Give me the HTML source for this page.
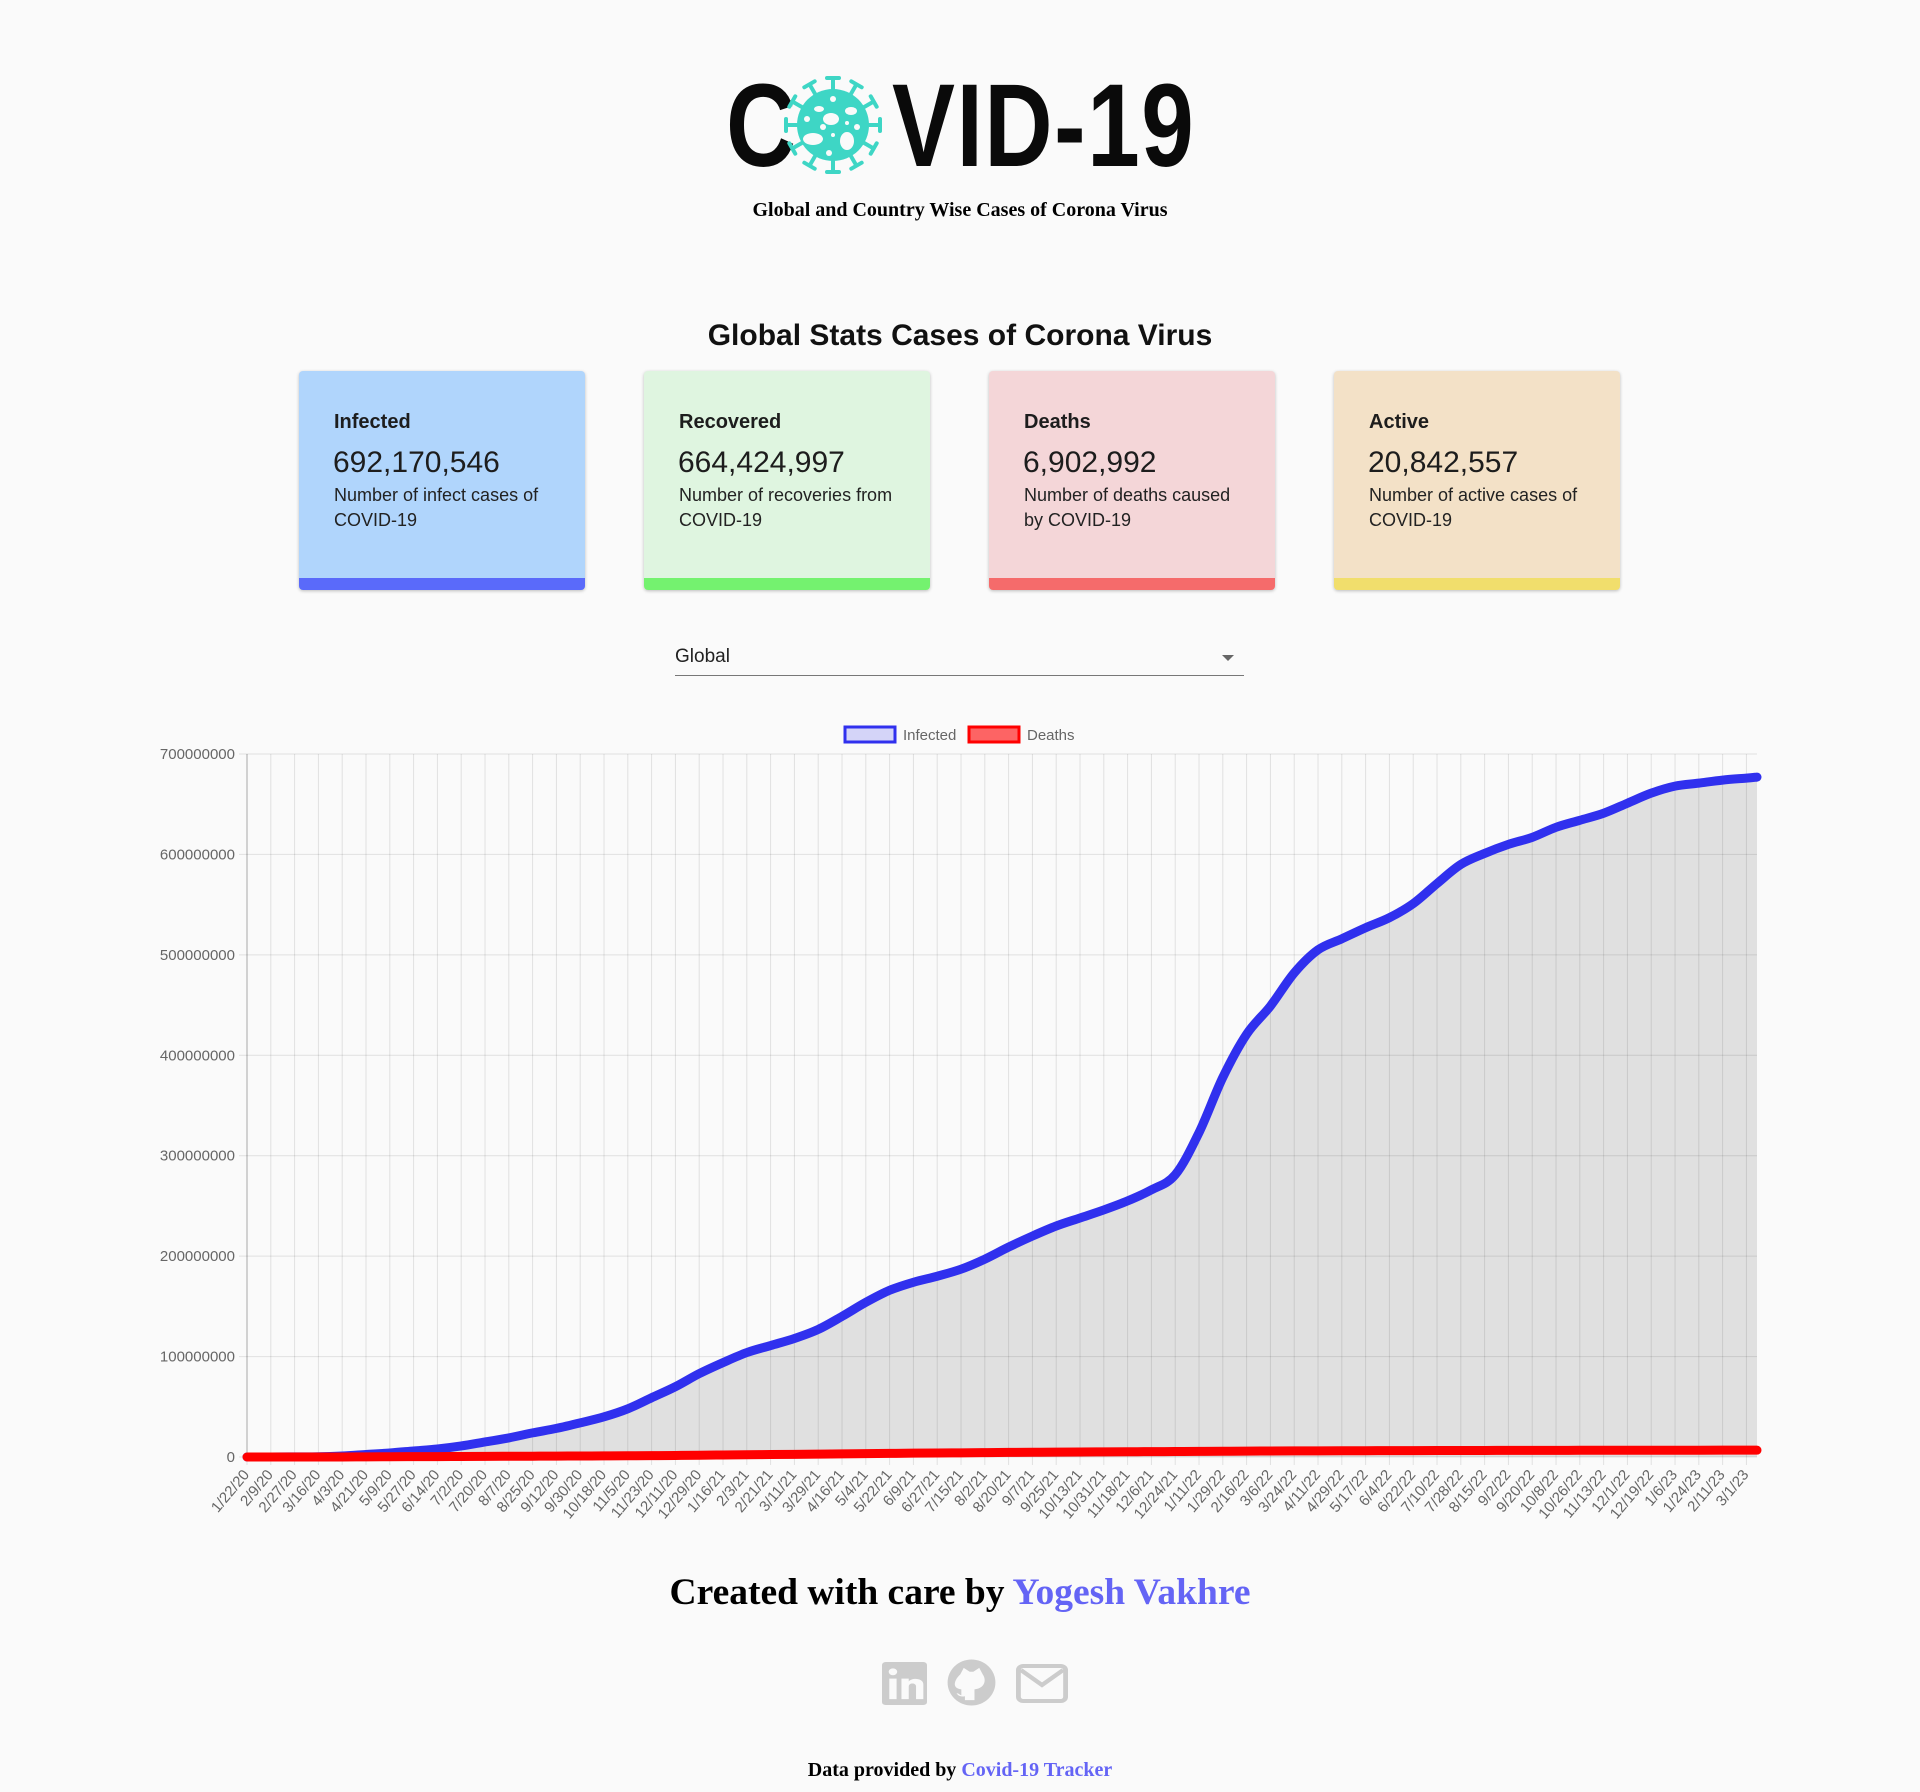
<!DOCTYPE html>
<html><head><meta charset="utf-8">
<style>
body{margin:0;background:#fafafa;width:1920px;height:1792px;position:relative;overflow:hidden;font-family:"Liberation Sans",sans-serif;color:#222}
.abs{position:absolute}
.card{position:absolute;top:371px;width:286px;height:219px;border-radius:4px;box-shadow:0 1px 3px rgba(0,0,0,.25);overflow:hidden}
.card .bar{position:absolute;left:0;right:0;bottom:0;height:12px}
.card .t{position:absolute;left:35px;top:40px;font-weight:bold;font-size:20px;color:#1d1d1d}
.card .n{position:absolute;left:34px;top:75px;font-size:30px;color:#1d1d1d}
.card .d{position:absolute;left:35px;top:112px;font-size:18px;line-height:25px;width:222px;color:#222}
</style></head><body>
<div class="abs" style="left:0;top:0;width:1920px;height:180px">
  <div class="abs" style="left:726px;top:58px;font-weight:bold;font-size:118px;color:#0a0a0a;transform:scaleX(0.82);transform-origin:left top">C</div>
  <svg class="abs" style="left:778px;top:70px" width="110" height="110" viewBox="-55 -55 110 110">
    <g stroke="#3ed6c5" stroke-width="4" stroke-linecap="round" fill="#3ed6c5">
      <g id="sp"><line x1="0" y1="-34" x2="0" y2="-46"/><line x1="-6" y1="-47" x2="6" y2="-47"/></g>
      <use href="#sp" transform="rotate(30)"/><use href="#sp" transform="rotate(60)"/><use href="#sp" transform="rotate(90)"/><use href="#sp" transform="rotate(120)"/><use href="#sp" transform="rotate(150)"/><use href="#sp" transform="rotate(180)"/><use href="#sp" transform="rotate(210)"/><use href="#sp" transform="rotate(240)"/><use href="#sp" transform="rotate(270)"/><use href="#sp" transform="rotate(300)"/><use href="#sp" transform="rotate(330)"/>
    </g>
    <circle r="36" fill="#3ed6c5"/>
    <g fill="#fafafa"><ellipse cx="-2" cy="-6" rx="8" ry="6"/><ellipse cx="-20" cy="14" rx="10" ry="6"/><ellipse cx="14" cy="16" rx="7" ry="9"/><ellipse cx="-14" cy="-16" rx="5" ry="3"/><ellipse cx="18" cy="-14" rx="6" ry="4"/><circle cx="0" cy="-26" r="3"/><circle cx="-26" cy="-6" r="3"/><circle cx="14" cy="-2" r="2"/><circle cx="-4" cy="28" r="3"/><circle cx="0" cy="10" r="2"/><circle cx="-10" cy="2" r="3"/><circle cx="24" cy="2" r="3"/></g>
  </svg>
  <div class="abs" style="left:892px;top:58px;font-weight:bold;font-size:118px;color:#0a0a0a;transform:scaleX(0.8);transform-origin:left top;letter-spacing:2px">VID-19</div>
</div>
<div class="abs" style="left:0;width:1920px;top:199px;text-align:center;font-family:'Liberation Serif',serif;font-weight:bold;font-size:20px;color:#000">Global and Country Wise Cases of Corona Virus</div>
<div class="abs" style="left:0;width:1920px;top:319px;text-align:center;font-weight:bold;font-size:30px;color:#111">Global Stats Cases of Corona Virus</div>

<div class="card" style="left:299px;background:#b0d5fc"><div class="t">Infected</div><div class="n">692,170,546</div><div class="d">Number of infect cases of COVID-19</div><div class="bar" style="background:#5a6afa"></div></div>
<div class="card" style="left:644px;background:#dff5e0"><div class="t">Recovered</div><div class="n">664,424,997</div><div class="d">Number of recoveries from COVID-19</div><div class="bar" style="background:#74f26f"></div></div>
<div class="card" style="left:989px;background:#f4d6d8"><div class="t">Deaths</div><div class="n">6,902,992</div><div class="d">Number of deaths caused by COVID-19</div><div class="bar" style="background:#f56b6b"></div></div>
<div class="card" style="left:1334px;background:#f3e1c7"><div class="t">Active</div><div class="n">20,842,557</div><div class="d">Number of active cases of COVID-19</div><div class="bar" style="background:#f1de6c"></div></div>

<div class="abs" style="left:675px;top:642px;width:569px;height:33px;border-bottom:1px solid #777">
  <span class="abs" style="left:0;top:4px;font-size:19px;color:#222">Global</span>
  <span class="abs" style="right:10px;top:13px;width:0;height:0;border-left:6px solid transparent;border-right:6px solid transparent;border-top:6px solid #666"></span>
</div>

<svg id="chart" class="abs" style="left:0;top:700px" width="1920" height="830"></svg>

<div class="abs" style="left:0;width:1920px;top:1571px;text-align:center;font-family:'Liberation Serif',serif;font-weight:bold;font-size:37.5px;color:#000">Created with care by <span style="color:#6464f5">Yogesh Vakhre</span></div>
<svg class="abs" style="left:882px;top:1662px" width="45" height="43" viewBox="0 0 37 44" preserveAspectRatio="none"><rect x="0" y="0" width="37" height="44" rx="3" fill="#ccc"/><rect x="6" y="17" width="6" height="21" fill="#fafafa"/><circle cx="9" cy="10" r="3.5" fill="#fafafa"/><path d="M16 17h6v3c2-4 12-4 12 3v15h-6V25c0-4-6-4-6 0v13h-6z" fill="#fafafa"/></svg>
<svg class="abs" style="left:947px;top:1659px" width="49" height="47" viewBox="0 0 41 48" preserveAspectRatio="none"><ellipse cx="20.5" cy="24" rx="20" ry="23.5" fill="#ccc"/><path d="M11 16l3-7 5 4h3l5-4 3 7c3 5 2 14-7 15v11h-8V38c-4 1-6-1-7-3 2 0 3 2 4 2v-6C3 30 7 20 11 16z" fill="#fafafa"/></svg>
<svg class="abs" style="left:1016px;top:1664px" width="52" height="39" viewBox="0 0 43 39" preserveAspectRatio="none"><rect x="2" y="2" width="39" height="35" rx="4" fill="none" stroke="#ccc" stroke-width="4"/><path d="M4 6l17.5 15L39 6" fill="none" stroke="#ccc" stroke-width="4"/></svg>
<div class="abs" style="left:0;width:1920px;top:1759px;text-align:center;font-family:'Liberation Serif',serif;font-weight:bold;font-size:20px;color:#000">Data provided by <span style="color:#6464f5">Covid-19 Tracker</span></div>

<script>
// days since 1/22/20 for each sample (every 18 days) plus final day
const sampleDays = [0,18,36,54,72,90,108,126,144,162,180,198,216,234,252,270,288,306,324,342,360,378,396,414,432,450,468,486,504,522,540,558,576,594,612,630,648,666,684,702,720,738,756,774,792,810,828,846,864,882,900,918,936,954,972,990,1008,1026,1044,1062,1080,1098,1116,1134,1142];
// infected in millions
const infectedM = [0,0,0.1,0.2,1,2.5,4,6,8,11,15,19,24,28.5,34,40,48,59,70,83,94,104,111,118,127,140,154,166,174,180,187,197,209,220,230,238,246,255,266,281,323,378,421,449,482,505,516,527,537,551,571,590,601,610,617,627,634,641,651,661,668,671,674,676,677];
// deaths in millions
const deathsM = [0,0,0,0.01,0.06,0.18,0.28,0.35,0.43,0.52,0.62,0.72,0.8,0.9,1.0,1.1,1.23,1.38,1.55,1.75,2.0,2.25,2.45,2.65,2.85,3.05,3.3,3.55,3.8,4.0,4.15,4.35,4.55,4.7,4.85,4.98,5.1,5.22,5.35,5.45,5.55,5.7,5.85,5.98,6.08,6.15,6.2,6.26,6.32,6.38,6.42,6.48,6.52,6.56,6.6,6.64,6.66,6.68,6.7,6.72,6.75,6.78,6.8,6.82,6.83];
const yTicks = [0,100000000,200000000,300000000,400000000,500000000,600000000,700000000];

const NS='http://www.w3.org/2000/svg';
const svg=document.getElementById('chart');
const X0=247,X1=1757,TOP=754-700,ZERO=1457-700,DMAX=1142,VMAX=700;
const xs=d=>X0+d/DMAX*(X1-X0);
const ys=v=>ZERO-v/VMAX*(ZERO-TOP);
function mk(tag,attrs){const e=document.createElementNS(NS,tag);for(const k in attrs)e.setAttribute(k,attrs[k]);svg.appendChild(e);return e;}
function fmt(d){const t=new Date(Date.UTC(2020,0,22)+d*86400000);return (t.getUTCMonth()+1)+'/'+t.getUTCDate()+'/'+String(t.getUTCFullYear()).slice(2);}
yTicks.forEach(v=>{const y=ys(v/1e6);
  const l=mk('line',{x1:X0-8,x2:X1,y1:y,y2:y,stroke:'rgba(0,0,0,0.1)'});
  
  
  const t=mk('text',{x:X0-12,y:y+5,'text-anchor':'end','font-size':15,fill:'#666','font-family':'Liberation Sans'});
  t.textContent=String(v);
  
  
});
sampleDays.slice(0,-1).forEach(d=>{const x=xs(d);
  const l=mk('line',{x1:x,x2:x,y1:TOP,y2:ZERO+8,stroke:'rgba(0,0,0,0.1)'});
  
  
  const t=mk('text',{transform:`translate(${x+3},${ZERO+18}) rotate(-50)`,'text-anchor':'end','font-size':15,fill:'#666','font-family':'Liberation Sans'});
  t.textContent=fmt(d);
  
  
});
mk('line',{x1:X0,x2:X0,y1:TOP,y2:ZERO,stroke:'rgba(0,0,0,0.25)'});
function path(vals){const p=sampleDays.map((d,i)=>[xs(d),ys(vals[i])]);let s='M'+p[0];
  for(let i=0;i<p.length-1;i++){const a=p[Math.max(i-1,0)],b=p[i],c=p[i+1],e=p[Math.min(i+2,p.length-1)];
    const c1=[b[0]+(c[0]-a[0])/6,b[1]+(c[1]-a[1])/6],c2=[c[0]-(e[0]-b[0])/6,c[1]-(e[1]-b[1])/6];
    s+=`C${c1} ${c2} ${c}`;}return s;}
const ip=path(infectedM);
const area=mk('path',{d:ip+`L${xs(DMAX)},${ZERO}L${X0},${ZERO}Z`,fill:'rgba(0,0,0,0.1)'});


const il=mk('path',{d:ip,fill:'none',stroke:'#3030ee','stroke-width':9,'stroke-linecap':'round','stroke-linejoin':'round'});


const dl=mk('path',{d:path(deathsM),fill:'none',stroke:'#ff0000','stroke-width':9,'stroke-linecap':'round'});


const lg=[['Infected','#3030ee','rgba(60,60,240,0.2)',845],['Deaths','#ff0000','rgba(255,0,0,0.6)',969]];
lg.forEach(g=>{
  const r=mk('rect',{x:g[3],y:27,width:50,height:15,fill:g[2],stroke:g[1],'stroke-width':3});
  
  
  const t=mk('text',{x:g[3]+58,y:40,'font-size':15,fill:'#666','font-family':'Liberation Sans'});
  t.textContent=g[0];
  
  
});
</script>
</body></html>
